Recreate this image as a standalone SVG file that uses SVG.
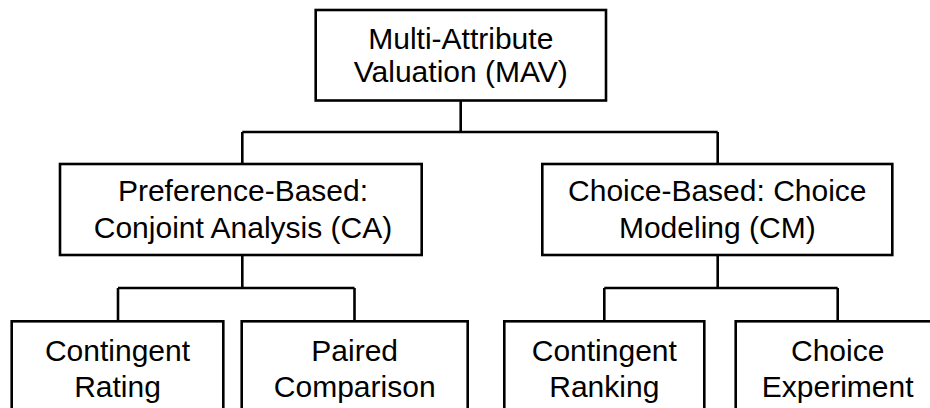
<svg xmlns="http://www.w3.org/2000/svg" width="930" height="408" viewBox="0 0 930 408">
<style>
.box{fill:#fff;stroke:#000;stroke-width:2.6}
.con{fill:none;stroke:#000;stroke-width:2.6}
text{font-family:"Liberation Sans",Arial,sans-serif;font-size:30px;fill:#000;text-anchor:middle}
</style>
<rect width="930" height="408" fill="#fff"/>
<g id="connectors">
<path class="con" d="M460.7 100V132M242.3 132H717.7M242.3 132V164M717.7 132V164"/>
<path class="con" d="M242.3 255V288M118 288H354.5M118 288V321M354.5 288V321"/>
<path class="con" d="M717.7 255V288M604.3 288H837.7M604.3 288V321M837.7 288V321"/>
</g>
<g id="mav">
<rect class="box" x="315.7" y="10" width="290.3" height="90.5"/>
<text x="460.8" y="48.5">Multi-Attribute</text>
<text x="460.8" y="82">Valuation (MAV)</text>
</g>
<g id="ca">
<rect class="box" x="60" y="164" width="361.7" height="91"/>
<text x="243" y="201">Preference-Based:</text>
<text x="243" y="238">Conjoint Analysis (CA)</text>
</g>
<g id="cm">
<rect class="box" x="542.3" y="164" width="350" height="91"/>
<text x="717.3" y="201">Choice-Based: Choice</text>
<text x="717.3" y="238">Modeling (CM)</text>
</g>
<g id="rating">
<rect class="box" x="11.7" y="321.3" width="211.6" height="100"/>
<text x="117.5" y="360.7">Contingent</text>
<text x="117.5" y="396.7">Rating</text>
</g>
<g id="paired">
<rect class="box" x="241.7" y="321.3" width="226" height="100"/>
<text x="354.7" y="360.7">Paired</text>
<text x="354.7" y="396.7">Comparison</text>
</g>
<g id="ranking">
<rect class="box" x="504.3" y="321.3" width="200" height="100"/>
<text x="604.3" y="360.7">Contingent</text>
<text x="604.3" y="396.7">Ranking</text>
</g>
<g id="experiment">
<rect class="box" x="735.7" y="321.3" width="204" height="100"/>
<text x="837.7" y="360.7">Choice</text>
<text x="837.7" y="396.7">Experiment</text>
</g>
</svg>
